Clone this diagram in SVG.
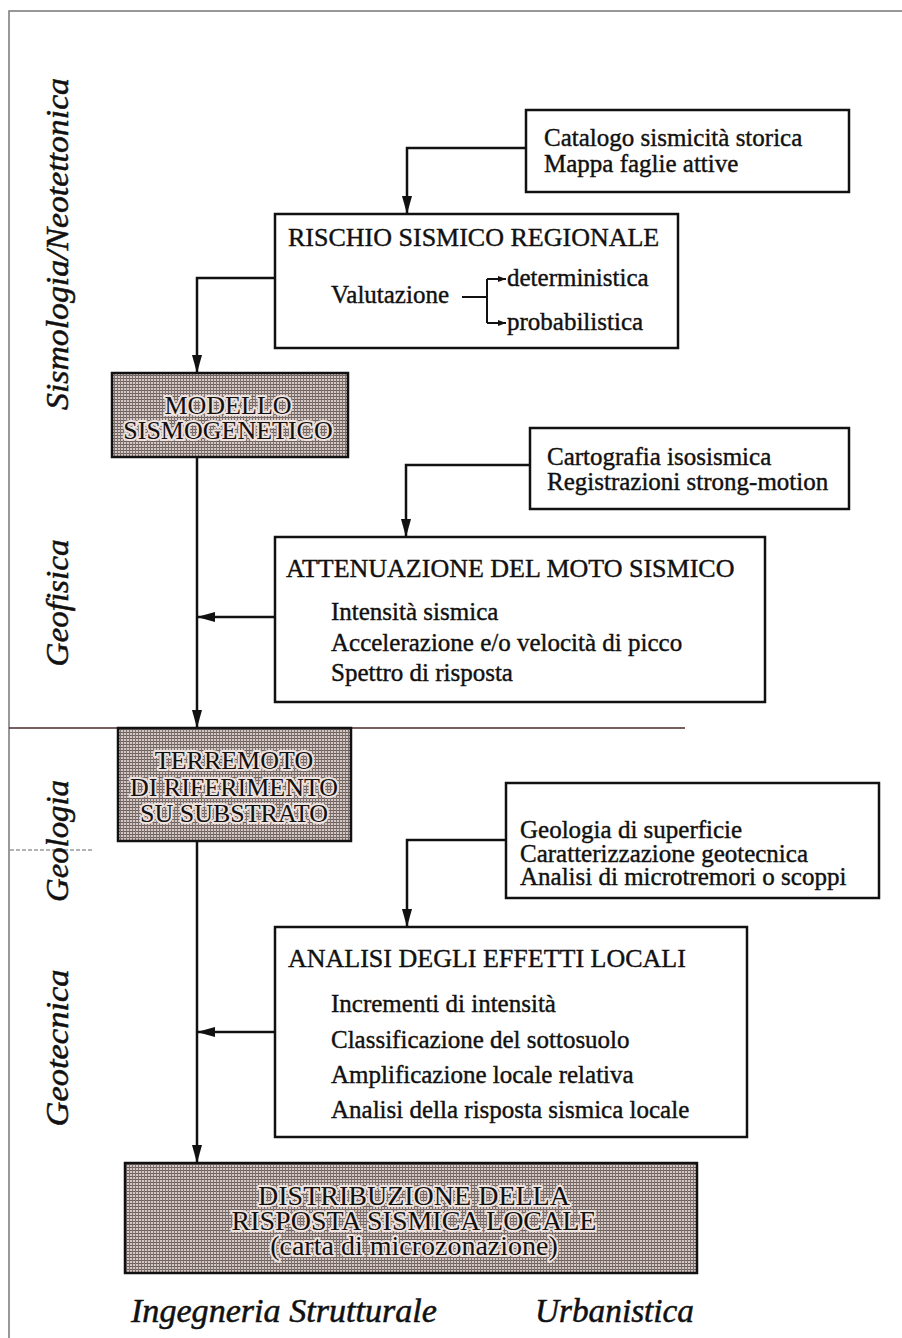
<svg xmlns="http://www.w3.org/2000/svg" width="902" height="1338" viewBox="0 0 902 1338">
<defs>
<style>
.box{fill:#fff;stroke:#111;stroke-width:2.5}
.shade{fill:url(#grid);stroke:#111;stroke-width:2.5}
.ln{fill:none;stroke:#111;stroke-width:2.5}
.t{font-family:"Liberation Serif","Times New Roman",serif;font-size:25px;fill:#111;stroke:#111;stroke-width:0.4}
.ti{font-family:"Liberation Serif","Times New Roman",serif;font-size:26px;fill:#111;stroke:#111;stroke-width:0.4}
.sh{font-family:"Liberation Serif","Times New Roman",serif;font-size:26px;fill:#111;text-anchor:middle;stroke:#eee2de;stroke-width:4;paint-order:stroke;stroke-linejoin:round}
.lab{font-family:"Liberation Serif","Times New Roman",serif;font-style:italic;font-size:32px;fill:#111;stroke:#111;stroke-width:0.5;text-anchor:middle}
.bl{font-family:"Liberation Serif","Times New Roman",serif;font-style:italic;font-size:33px;fill:#111;stroke:#111;stroke-width:0.5}
</style>
<pattern id="grid" width="3" height="3" patternUnits="userSpaceOnUse">
<rect width="3" height="3" fill="#d6c8c4"/>
<rect width="3" height="1" fill="#6b5f5c"/>
<rect width="1" height="3" fill="#7e7270"/>
</pattern>
<marker id="arr" viewBox="0 0 18 10" refX="18" refY="5" markerWidth="18" markerHeight="10" markerUnits="userSpaceOnUse" orient="auto">
<path d="M0,0 L18,5 L0,10 z" fill="#111"/>
</marker>
<marker id="sarr" viewBox="0 0 8 6" refX="8" refY="3" markerWidth="8" markerHeight="6" markerUnits="userSpaceOnUse" orient="auto">
<path d="M0,0 L8,3 L0,6 z" fill="#111"/>
</marker>
</defs>
<rect width="902" height="1338" fill="#fff"/>
<g id="frame">
<path d="M9,1338 L9,11 L902,11" fill="none" stroke="#777" stroke-width="1.5"/>
<line x1="9" y1="728" x2="685" y2="728" stroke="#4a2a2a" stroke-width="1.5"/>
<line x1="10" y1="850" x2="92" y2="850" stroke="#666" stroke-width="1.2" stroke-dasharray="4,2"/>
</g>
<g id="labels">
<text class="lab" transform="translate(68,244) rotate(-90)" textLength="332" lengthAdjust="spacingAndGlyphs">Sismologia/Neotettonica</text>
<text class="lab" transform="translate(68,603) rotate(-90)" textLength="127" lengthAdjust="spacingAndGlyphs">Geofisica</text>
<text class="lab" transform="translate(68,841) rotate(-90)" textLength="122" lengthAdjust="spacingAndGlyphs">Geologia</text>
<text class="lab" transform="translate(68,1048) rotate(-90)" textLength="157" lengthAdjust="spacingAndGlyphs">Geotecnica</text>
<text class="bl" x="131" y="1322" textLength="306" lengthAdjust="spacingAndGlyphs">Ingegneria Strutturale</text>
<text class="bl" x="535" y="1322" textLength="159" lengthAdjust="spacingAndGlyphs">Urbanistica</text>
</g>
<g id="connectors">
<path class="ln" d="M526,148 L407,148 L407,214" marker-end="url(#arr)"/>
<path class="ln" d="M275,278 L197,278 L197,373" marker-end="url(#arr)"/>
<path class="ln" d="M197,457 L197,728" marker-end="url(#arr)"/>
<path class="ln" d="M530,465 L406,465 L406,537" marker-end="url(#arr)"/>
<path class="ln" d="M275,617 L197,617" marker-end="url(#arr)"/>
<path class="ln" d="M197,841 L197,1163" marker-end="url(#arr)"/>
<path class="ln" d="M506,840 L407,840 L407,927" marker-end="url(#arr)"/>
<path class="ln" d="M275,1032 L197,1032" marker-end="url(#arr)"/>
</g>
<g id="catalogo">
<rect class="box" x="526" y="110" width="323" height="82"/>
<text class="t" x="544" y="146">Catalogo sismicità storica</text>
<text class="t" x="544" y="172">Mappa faglie attive</text>
</g>
<g id="rischio">
<rect class="box" x="275" y="214" width="403" height="134"/>
<text class="ti" x="288" y="246">RISCHIO SISMICO REGIONALE</text>
<text class="t" x="331" y="303">Valutazione</text>
<path fill="none" stroke="#111" stroke-width="2" d="M462,297 L487,297 M487,279 L487,323"/>
<path fill="none" stroke="#111" stroke-width="2" d="M487,279 L506,279" marker-end="url(#sarr)"/>
<path fill="none" stroke="#111" stroke-width="2" d="M487,323 L506,323" marker-end="url(#sarr)"/>
<text class="t" x="507" y="286">deterministica</text>
<text class="t" x="507" y="330">probabilistica</text>
</g>
<g id="modello">
<rect class="shade" x="112" y="373" width="236" height="84"/>
<text class="sh" x="228" y="414">MODELLO</text>
<text class="sh" x="228" y="439">SISMOGENETICO</text>
</g>
<g id="cartografia">
<rect class="box" x="530" y="428" width="319" height="81"/>
<text class="t" x="547" y="465">Cartografia isosismica</text>
<text class="t" x="547" y="490">Registrazioni strong-motion</text>
</g>
<g id="attenuazione">
<rect class="box" x="275" y="537" width="490" height="165"/>
<text class="ti" x="286" y="577">ATTENUAZIONE DEL MOTO SISMICO</text>
<text class="t" x="331" y="620">Intensità sismica</text>
<text class="t" x="331" y="651">Accelerazione e/o velocità di picco</text>
<text class="t" x="331" y="681">Spettro di risposta</text>
</g>
<g id="terremoto">
<rect class="shade" x="118" y="728" width="233" height="113"/>
<text class="sh" x="234" y="769">TERREMOTO</text>
<text class="sh" x="234" y="796">DI RIFERIMENTO</text>
<text class="sh" x="234" y="822">SU SUBSTRATO</text>
</g>
<g id="geologia">
<rect class="box" x="506" y="783" width="373" height="115"/>
<text class="t" x="520" y="838">Geologia di superficie</text>
<text class="t" x="520" y="862">Caratterizzazione geotecnica</text>
<text class="t" x="520" y="885">Analisi di microtremori o scoppi</text>
</g>
<g id="analisi">
<rect class="box" x="275" y="927" width="472" height="210"/>
<text class="ti" x="288" y="967">ANALISI DEGLI EFFETTI LOCALI</text>
<text class="t" x="331" y="1012">Incrementi di intensità</text>
<text class="t" x="331" y="1048">Classificazione del sottosuolo</text>
<text class="t" x="331" y="1083">Amplificazione locale relativa</text>
<text class="t" x="331" y="1118">Analisi della risposta sismica locale</text>
</g>
<g id="distribuzione">
<rect class="shade" x="125" y="1163" width="572" height="110"/>
<text class="sh" x="414" y="1205" style="font-size:28px">DISTRIBUZIONE DELLA</text>
<text class="sh" x="414" y="1230" style="font-size:28px">RISPOSTA SISMICA LOCALE</text>
<text class="sh" x="414" y="1255" style="font-size:28px">(carta di microzonazione)</text>
</g>
</svg>
